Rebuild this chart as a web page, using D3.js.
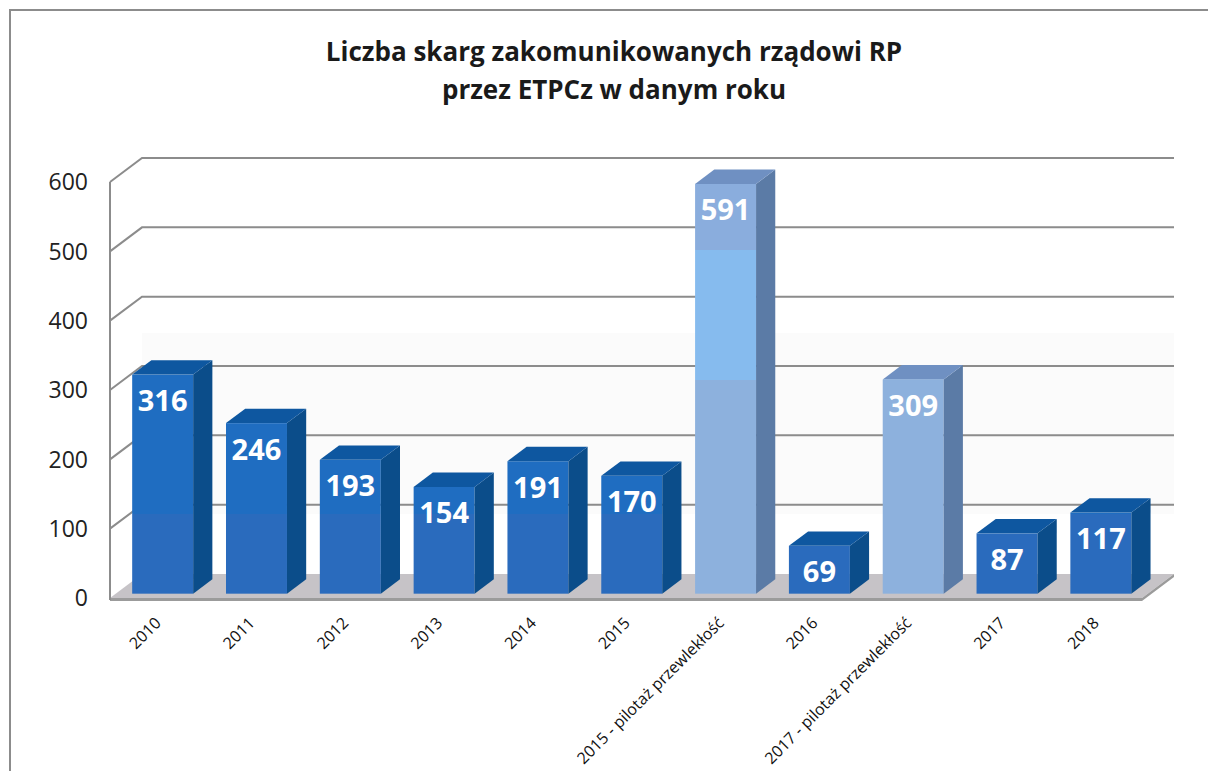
<!DOCTYPE html>
<html>
<head>
<meta charset="utf-8">
<script src="https://cdn.jsdelivr.net/npm/d3@7"></script>
<style>
  html, body { margin: 0; padding: 0; background: #fff; }
  svg { display: block; font-family: "Open Sans", "Noto Sans", sans-serif; }
</style>
</head>
<body>
<div id="chart"></div>
<script>
// data
const categories = ["2010", "2011", "2012", "2013", "2014", "2015",
  "2015 - pilotaż przewlekłość", "2016", "2017 - pilotaż przewlekłość", "2017", "2018"]
const values = [316, 246, 193, 154, 191, 170, 591, 69, 309, 87, 117]
const isPilot = [false, false, false, false, false, false, true, false, true, false, false]
const yTicks = [0, 100, 200, 300, 400, 500, 600]
const titleLines = ["Liczba skarg zakomunikowanych rządowi RP", "przez ETPCz w danym roku"]

const dims = {
  width: 1208,
  height: 771,
  plot: { left: 110, right: 1142, top: 182, bottom: 598 },
  depth: { dx: 32, dy: -24 },   // wall depth
  bar: { front: 0.18, back: 0.78 },  // bar position inside depth
}

const svg = d3.select("#chart").append("svg")
  .attr("width", dims.width)
  .attr("height", dims.height)

const defs = svg.append("defs")

// gradients mimic the horizontal banding of the original
function bandGradient(id, stops) {
  const g = defs.append("linearGradient")
    .attr("id", id)
    .attr("gradientUnits", "userSpaceOnUse")
    .attr("x1", 0).attr("x2", 0)
    .attr("y1", 150).attr("y2", 600)
  stops.forEach(([y, c]) => {
    g.append("stop").attr("offset", (y - 150) / 450).attr("stop-color", c)
  })
}
bandGradient("darkFront", [[150, "#1f6dc1"], [514, "#1f6dc1"], [514, "#2a6bbd"], [600, "#2a6bbd"]])
bandGradient("lightFront", [[150, "#8aaddd"], [250, "#8aaddd"], [250, "#86bbee"], [380, "#86bbee"],
  [380, "#8db1dd"], [600, "#8db1dd"]])

// outer frame (cut off on the right and bottom)
svg.append("rect")
  .attr("x", 10).attr("y", 10)
  .attr("width", 1400).attr("height", 1000)
  .attr("fill", "#fff")
  .attr("stroke", "#8c8c8c")
  .attr("stroke-width", 2)

// title
svg.append("g")
  .selectAll("text")
  .data(titleLines)
  .join("text")
  .attr("x", 614)
  .attr("y", (d, i) => 61 + i * 38)
  .attr("text-anchor", "middle")
  .attr("font-size", "26px")
  .attr("font-weight", "bold")
  .attr("fill", "#1a1a1a")
  .text(d => d)

const xScale = d3.scaleBand()
  .domain(categories)
  .range([dims.plot.left, dims.plot.right])
  .paddingInner(0.35)
  .paddingOuter(0.175)

const yScale = d3.scaleLinear()
  .domain([0, 600])
  .range([dims.plot.bottom, dims.plot.top])

const DX = dims.depth.dx, DY = dims.depth.dy
const gBody = svg.append("g")

// faint band on the back wall
gBody.append("rect")
  .attr("x", dims.plot.left + DX).attr("y", 333)
  .attr("width", dims.plot.right - dims.plot.left).attr("height", 181)
  .attr("fill", "#fbfbfb")

// floor
const y0 = yScale(0)
gBody.append("path")
  .attr("d", `M${dims.plot.left},${y0} L${dims.plot.left + DX},${y0 + DY} L${dims.plot.right + DX},${y0 + DY} L${dims.plot.right},${y0} Z`)
  .attr("fill", "#c6c3c7")
gBody.append("path")
  .attr("d", `M${dims.plot.left},${y0} L${dims.plot.right},${y0} L${dims.plot.right + DX},${y0 + DY} L${dims.plot.right + DX},${y0 + DY + 3} L${dims.plot.right},${y0 + 3} L${dims.plot.left},${y0 + 3} Z`)
  .attr("fill", "#9b9b9b")

// gridlines: side wall segment + back wall segment
gBody.append("g")
  .selectAll("path")
  .data(yTicks.filter(t => t > 0))
  .join("path")
  .attr("d", t => {
    const y = yScale(t)
    return `M${dims.plot.left},${y} L${dims.plot.left + DX},${y + DY} L${dims.plot.right + DX},${y + DY}`
  })
  .attr("fill", "none")
  .attr("stroke", "#8c8c8c")
  .attr("stroke-width", 2)

// left wall edge
gBody.append("line")
  .attr("x1", dims.plot.left).attr("x2", dims.plot.left)
  .attr("y1", dims.plot.top).attr("y2", y0 + 2)
  .attr("stroke", "#8c8c8c")
  .attr("stroke-width", 2)

// y axis labels
svg.append("g")
  .selectAll("text")
  .data(yTicks)
  .join("text")
  .attr("x", 88)
  .attr("y", t => yScale(t))
  .attr("dy", "0.36em")
  .attr("text-anchor", "end")
  .attr("font-size", "23px")
  .attr("fill", "#222")
  .text(t => t)

// bars
const bdx0 = DX * dims.bar.front, bdy0 = DY * dims.bar.front
const bdx = DX * (dims.bar.back - dims.bar.front), bdy = DY * (dims.bar.back - dims.bar.front)
const bars = categories.map((c, i) => {
  const xl = xScale(c) + bdx0
  const xr = xl + xScale.bandwidth()
  const yt = yScale(values[i]) + bdy0
  const yb = yScale(0) + bdy0
  return { c, v: values[i], pilot: isPilot[i], xl, xr, yt, yb }
})

const gBar = gBody.selectAll(".bar")
  .data(bars)
  .join("g")
  .attr("class", "bar")

gBar.append("rect")
  .attr("x", d => d.xl).attr("y", d => d.yt)
  .attr("width", d => d.xr - d.xl).attr("height", d => d.yb - d.yt)
  .attr("fill", d => d.pilot ? "url(#lightFront)" : "url(#darkFront)")

gBar.append("path")
  .attr("d", d => `M${d.xr},${d.yt} L${d.xr + bdx},${d.yt + bdy} L${d.xr + bdx},${d.yb + bdy} L${d.xr},${d.yb} Z`)
  .attr("fill", d => d.pilot ? "#5b7ba6" : "#0b4d8a")

gBar.append("path")
  .attr("d", d => `M${d.xl},${d.yt} L${d.xl + bdx},${d.yt + bdy} L${d.xr + bdx},${d.yt + bdy} L${d.xr},${d.yt} Z`)
  .attr("fill", d => d.pilot ? "#6f90c2" : "#0e57a0")

gBar.append("text")
  .attr("x", d => (d.xl + d.xr) / 2)
  .attr("y", d => d.yt + 26)
  .attr("dy", "0.36em")
  .attr("text-anchor", "middle")
  .attr("font-size", "29px")
  .attr("font-weight", "bold")
  .attr("fill", "#fff")
  .text(d => d.v)

// category labels
svg.append("g")
  .selectAll("text")
  .data(categories)
  .join("text")
  .attr("transform", c => `translate(${xScale(c) + xScale.bandwidth() / 2 + 5},${y0 + 26}) rotate(-45)`)
  .attr("text-anchor", "end")
  .attr("font-size", "16px")
  .attr("fill", "#111")
  .text(c => c)
</script>
</body>
</html>
